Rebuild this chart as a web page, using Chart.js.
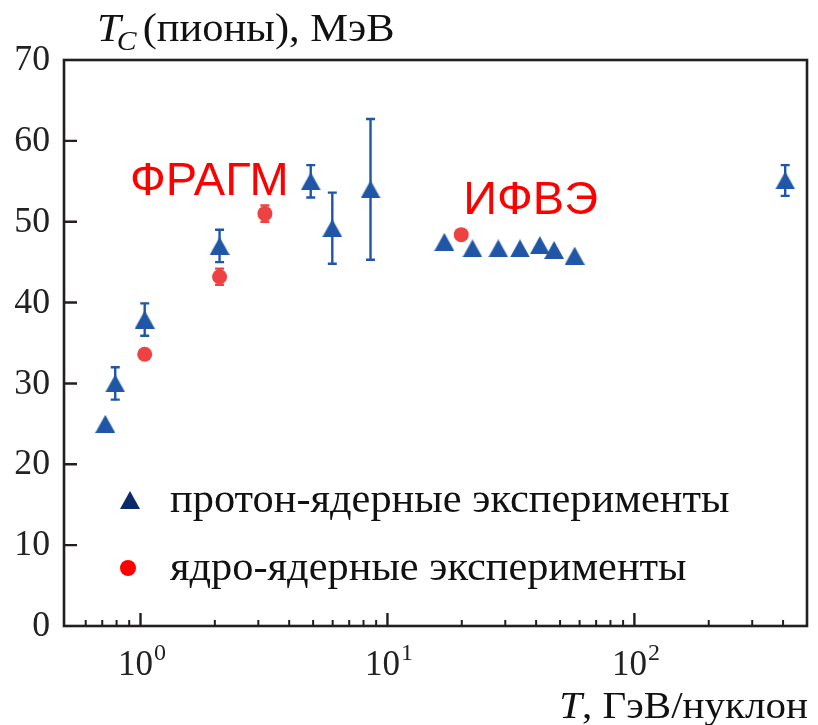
<!DOCTYPE html>
<html><head><meta charset="utf-8">
<script src="https://cdn.jsdelivr.net/npm/chart.js@4.4.1/dist/chart.umd.min.js"></script>
<style>html,body{margin:0;padding:0;background:#fff}#wrap{width:818px;height:725px}</style>
</head><body><div id="wrap"><canvas id="c" width="818" height="725"></canvas></div>
<script>
// ---- data ----
const protonT   = [0.72, 0.79, 1.04, 2.09, 4.89, 5.98, 8.54, 17.0, 22.1, 28.1, 34.4, 41.4, 47.3, 57.3, 408];
const protonTc  = [25.0, 30.0, 37.9, 47.0, 55.0, 49.2, 54.0, 47.5, 46.7, 46.7, 46.7, 47.1, 46.5, 45.8, 55.1];
const protonErr = [0,    2.0,  2.0,  2.0,  2.0,  4.4,  8.7,  0,    0,    0,    0,    0,    0,    0,    1.9];
const nucleusT   = [1.04, 2.09, 3.19, 19.9];
const nucleusTc  = [33.6, 43.2, 51.0, 48.4];
const nucleusErr = [0,    1.0,  1.0,  0];
const yTicks = [0, 10, 20, 30, 40, 50, 60, 70];
const xMajorTicks = [1, 10, 100];
const xMajorExp = ['0', '1', '2'];
const xMinorTicks = [0.6,0.7,0.8,0.9, 2,3,4,5,6,7,8,9, 20,30,40,50,60,70,80,90, 200,300,400];
const legendLabels = ['протон-ядерные эксперименты', 'ядро-ядерные эксперименты'];
const groupLabels = ['ФРАГМ', 'ИФВЭ'];
const groupAnchors = [[1.90, 53.3], [38.0, 51.0]]; // [T, Tc] of the baseline centre of each group name

const BLUE = '#1f56a6', RED = '#ee4242';

function triCanvas(color, w, h) {
  const c = document.createElement('canvas');
  c.width = w; c.height = h;
  const g = c.getContext('2d');
  g.fillStyle = color;
  g.beginPath(); g.moveTo(0, h); g.lineTo(w / 2, 0); g.lineTo(w, h); g.closePath(); g.fill();
  return c;
}
const triBlue = triCanvas(BLUE, 20, 18);
const triNavy = triCanvas('#0b2a6b', 20, 18);

const serif = "'Liberation Serif', 'Times New Roman', serif";
const sans = "'Liberation Sans', Arial, sans-serif";

// draw text stretched horizontally by sx; returns drawn width
function txt(ctx, s, x, y, font, sx, align) {
  ctx.save();
  ctx.font = font;
  const w = ctx.measureText(s).width * sx;
  let x0 = x;
  if (align === 'right') x0 = x - w;
  else if (align === 'center') x0 = x - w / 2;
  ctx.translate(x0, y);
  ctx.scale(sx, 1);
  ctx.textAlign = 'left';
  ctx.fillText(s, 0, 0);
  ctx.restore();
  return w;
}

const drawPlugin = {
  id: 'drawExtras',
  beforeDatasetsDraw(chart) {
    const ctx = chart.ctx, xs = chart.scales.x, ys = chart.scales.y;
    ctx.save();
    ctx.lineWidth = 2.4;
    const bars = [[protonT, protonTc, protonErr, BLUE], [nucleusT, nucleusTc, nucleusErr, RED]];
    for (const [X, Y, E, col] of bars) {
      ctx.strokeStyle = col;
      X.forEach((t, i) => {
        if (!E[i]) return;
        const px = xs.getPixelForValue(t);
        const y1 = ys.getPixelForValue(Y[i] + E[i]);
        const y2 = ys.getPixelForValue(Y[i] - E[i]);
        ctx.beginPath();
        ctx.moveTo(px, y1); ctx.lineTo(px, y2);
        ctx.moveTo(px - 4.5, y1); ctx.lineTo(px + 4.5, y1);
        ctx.moveTo(px - 4.5, y2); ctx.lineTo(px + 4.5, y2);
        ctx.stroke();
      });
    }
    ctx.restore();
  },
  afterDraw(chart) {
    const ctx = chart.ctx, xs = chart.scales.x, ys = chart.scales.y, a = chart.chartArea;
    ctx.save();
    // frame
    ctx.strokeStyle = '#231f20';
    ctx.lineWidth = 2.6;
    ctx.strokeRect(a.left, a.top, a.right - a.left, a.bottom - a.top);
    // ticks
    ctx.lineWidth = 2.4;
    ctx.beginPath();
    yTicks.forEach(v => {
      const py = ys.getPixelForValue(v);
      if (v > 0 && v < 70) { ctx.moveTo(a.left, py); ctx.lineTo(a.left + 13, py); }
    });
    xMajorTicks.forEach(v => { const px = xs.getPixelForValue(v); ctx.moveTo(px, a.bottom); ctx.lineTo(px, a.bottom - 13); });
    ctx.stroke();
    ctx.lineWidth = 2;
    ctx.beginPath();
    xMinorTicks.forEach(v => { const px = xs.getPixelForValue(v); ctx.moveTo(px, a.bottom); ctx.lineTo(px, a.bottom - 6); });
    ctx.stroke();
    // y tick labels
    ctx.fillStyle = '#222';
    ctx.textBaseline = 'middle';
    yTicks.forEach(v => txt(ctx, String(v), 50, ys.getPixelForValue(v) + 1, '35px ' + serif, 1.02, 'right'));
    // x tick labels 10^n
    ctx.textBaseline = 'alphabetic';
    xMajorTicks.forEach((v, i) => {
      const px = xs.getPixelForValue(v);
      ctx.font = '35px ' + serif;
      const wb = ctx.measureText('10').width;
      ctx.font = '24px ' + serif;
      const we = ctx.measureText(xMajorExp[i]).width;
      const x0 = px - (wb + we) / 2 + 1;
      txt(ctx, '10', x0, 675, '35px ' + serif, 1, 'left');
      txt(ctx, xMajorExp[i], x0 + wb + 1, 660, '24px ' + serif, 1, 'left');
    });
    // axis titles
    ctx.fillStyle = '#111';
    let x = 97;
    x += txt(ctx, 'T', x, 41, 'italic 39px ' + serif, 1.1, 'left');
    x += txt(ctx, 'C', x - 4, 50, 'italic 27px ' + serif, 1.1, 'left');
    txt(ctx, '(пионы), МэВ', x + 2, 41, '39px ' + serif, 1.09, 'left');

    const rest = ', ГэВ/нуклон';
    const wr = txt(ctx, rest, 808, 718, '38px ' + serif, 1.08, 'right');
    txt(ctx, 'T', 808 - wr, 718, 'italic 38px ' + serif, 1.08, 'right');

    // legend
    ctx.drawImage(triNavy, 120, 491);
    ctx.fillStyle = '#ff0000';
    ctx.beginPath(); ctx.arc(128, 568, 8, 0, Math.PI * 2); ctx.fill();
    ctx.fillStyle = '#111';
    ctx.textBaseline = 'middle';
    txt(ctx, legendLabels[0], 170, 501, '40px ' + serif, 1.06, 'left');
    txt(ctx, legendLabels[1], 170, 569, '40px ' + serif, 1.06, 'left');

    // group names
    ctx.fillStyle = '#ff0000';
    ctx.textBaseline = 'alphabetic';
    groupLabels.forEach((s, i) => {
      txt(ctx, s, xs.getPixelForValue(groupAnchors[i][0]), ys.getPixelForValue(groupAnchors[i][1]), '47px ' + sans, 1, 'center');
    });
    ctx.restore();
  }
};

new Chart(document.getElementById('c'), {
  type: 'scatter',
  data: {
    datasets: [
      { label: legendLabels[0], data: protonT.map((t, i) => ({ x: t, y: protonTc[i] })),
        pointStyle: triBlue, backgroundColor: BLUE, borderColor: BLUE, pointRadius: 10, clip: false },
      { label: legendLabels[1], data: nucleusT.map((t, i) => ({ x: t, y: nucleusTc[i] })),
        pointStyle: 'circle', pointRadius: 7.5, backgroundColor: RED, borderColor: RED, borderWidth: 0, clip: false }
    ]
  },
  options: {
    responsive: false,
    animation: false,
    layout: { padding: { left: 64, right: 6.3, top: 60, bottom: 99 } },
    plugins: { legend: { display: false }, tooltip: { enabled: false } },
    scales: {
      x: { type: 'logarithmic', min: 0.49, max: 500, display: false },
      y: { type: 'linear', min: 0, max: 70, display: false }
    }
  },
  plugins: [drawPlugin]
});
</script></body></html>
